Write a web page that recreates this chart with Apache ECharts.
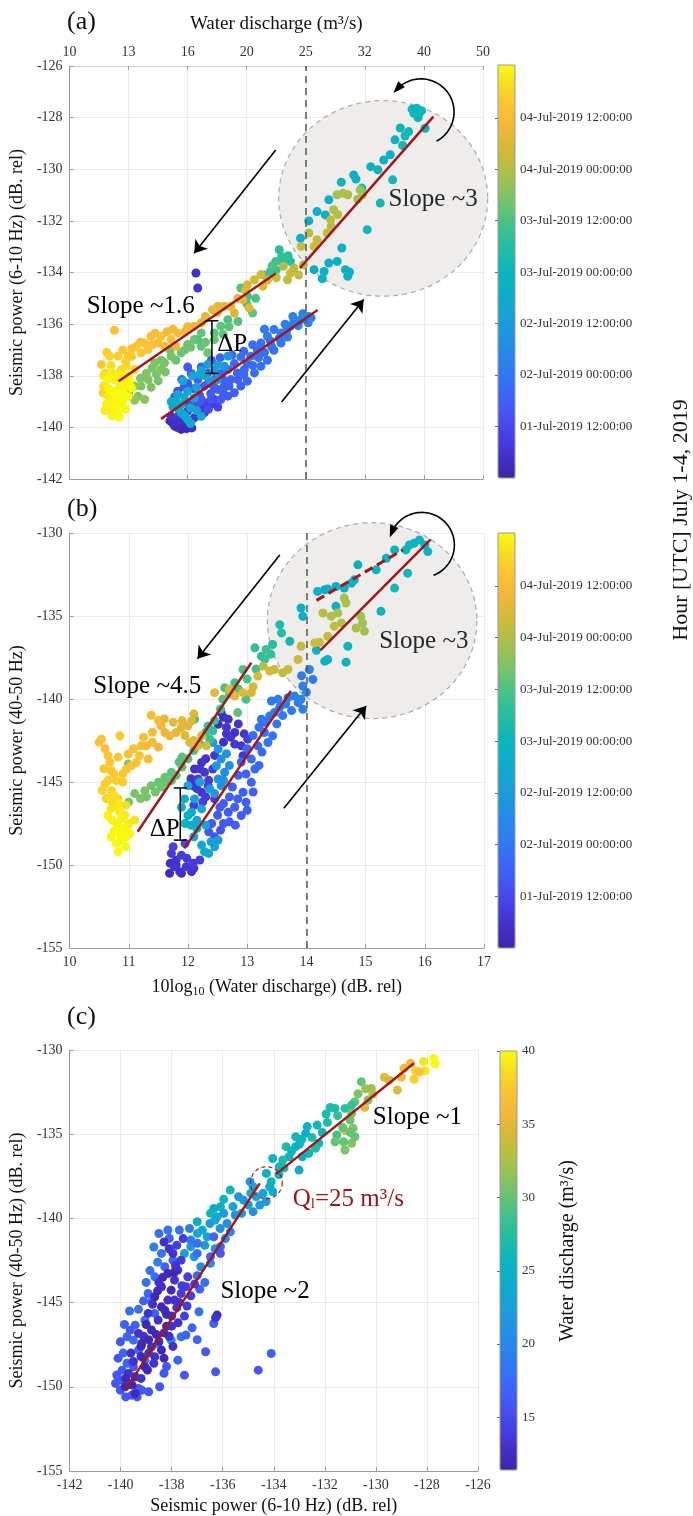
<!DOCTYPE html>
<html><head><meta charset="utf-8">
<script src="https://cdn.jsdelivr.net/npm/echarts@6/dist/echarts.min.js"></script>
<style>html,body{margin:0;padding:0;background:#fff}#c{width:693px;height:1516px}</style>
</head><body><div id="c"></div>
<script>
const FONT = '"Liberation Serif","Times New Roman",serif';

// ---------- tick labels ----------
const dischargeTickLabels = ['10','13','16','20','25','32','40','50']; // top axis of (a), at 10..17 dB
const timeTickValues = [12,24,36,48,60,72,84];   // hours since 01-Jul-2019 00:00
const timeTickLabels = ['01-Jul-2019 12:00:00','02-Jul-2019 00:00:00','02-Jul-2019 12:00:00','03-Jul-2019 00:00:00','03-Jul-2019 12:00:00','04-Jul-2019 00:00:00','04-Jul-2019 12:00:00'];
const qTickValues = [15,20,25,30,35,40];
const timeRange = [0, 96.3];
const qRange = [11.4, 40];
const thresholdDb = 14;

// ---------- panel (a): [10log10(Q), P 6-10 Hz, hour] ----------
const panelA = [
[15.80,-127.68,48],[15.88,-127.64,48],[15.96,-127.73,47],[15.83,-127.83,49],[15.92,-127.83,48],[16.02,-128.41,47],[15.74,-128.54,49],[15.68,-128.71,50],[15.51,-128.86,46],[15.64,-129.08,51],[15.43,-129.44,45],[15.32,-129.64,46],[15.22,-130.02,47],[15.47,-130.41,50],[14.81,-130.22,45],[14.85,-130.38,46],[14.95,-130.73,52],[15.26,-131.31,50],[15.04,-132.34,50],[14.19,-131.64,44],[14.33,-131.77,45],[14.39,-131.18,46],[13.91,-132.67,43],[14.14,-133.89,44],[14.31,-133.96,45],[14.28,-134.24,46],[14.39,-133.63,44],[14.53,-133.57,45],[14.61,-133.05,44],[14.67,-133.89,46],[14.74,-133.98,47],[14.71,-134.15,45],
[15.10,-129.90,47],[15.60,-128.40,48],[15.90,-128.00,47],[14.60,-130.50,47],[14.05,-132.00,44],
[14.53,-130.99,70],[14.63,-130.93,71],[14.71,-130.99,72],[14.92,-130.80,68],[14.96,-130.99,70],[14.88,-131.16,69],[14.47,-131.57,72],[14.54,-131.76,73],[14.42,-131.96,74],[14.36,-132.47,74],[14.19,-132.73,75],[14.14,-132.99,76],[13.92,-132.99,75],[14.05,-132.47,72],[14.43,-132.22,71],
[13.55,-133.12,55],[13.59,-133.38,56],[13.49,-133.57,58],[13.43,-133.74,60],[13.40,-133.96,58],[13.74,-133.57,55],[12.90,-134.60,60],[13.01,-134.92,58],[13.10,-135.57,62],[12.68,-135.83,60],[12.56,-136.08,62],[12.45,-136.34,61],[12.23,-136.34,62],[12.11,-136.60,63],[12.00,-136.79,63],[12.23,-136.86,62],[12.34,-137.11,64],[12.17,-136.60,60],
[13.30,-134.10,58],[13.50,-133.90,58],[13.60,-133.60,56],[13.70,-133.35,55],[13.00,-135.20,60],[13.15,-135.00,60],[12.85,-135.90,61],[12.70,-136.10,62],[12.60,-136.40,62],[12.45,-136.60,63],[12.30,-136.70,63],[12.05,-136.90,64],[11.95,-137.00,64],
[13.69,-134.28,74],[13.74,-134.02,75],[13.80,-133.83,73],[13.62,-133.76,72],[13.24,-134.08,76],[13.27,-134.53,78],[13.13,-134.28,77],[13.01,-134.47,78],[12.93,-135.05,80],[13.04,-135.37,79],[12.79,-135.57,78],[12.62,-135.31,79],[12.51,-135.31,80],[12.42,-135.44,81],[12.73,-135.31,80],[12.23,-135.95,78],[12.11,-136.08,80],
[12.85,-135.00,79],[12.98,-134.70,78],[13.35,-134.30,76],[13.50,-134.20,75],[12.30,-135.70,80],[12.50,-135.55,80],[12.00,-136.10,81],[13.88,-134.10,74],[13.96,-133.70,73],
[11.83,-136.34,84],[11.72,-136.60,85],[11.55,-136.47,86],[11.38,-136.47,85],[11.27,-136.73,86],[11.61,-136.86,84],[11.33,-136.99,87],[11.21,-137.11,88],[10.99,-137.24,88],[10.82,-137.24,89],[10.76,-136.24,86],[11.50,-136.73,83],[11.80,-136.86,82],[11.13,-136.86,87],
[10.90,-137.00,88],[11.05,-136.95,87],[11.20,-136.70,86],[11.40,-136.80,86],[11.65,-136.30,84],[11.75,-136.20,83],[11.95,-136.30,83],[11.45,-136.35,85],[10.95,-137.45,89],[11.05,-137.25,88],[10.60,-137.90,90],[10.63,-137.10,89],
[11.72,-137.24,64],[11.61,-137.50,65],[11.55,-137.76,66],[11.47,-137.95,65],[11.33,-138.15,66],[11.21,-138.40,66],[11.16,-138.79,67],[11.27,-138.92,67],[11.10,-138.95,68],[11.89,-137.11,63],[11.44,-137.50,66],
[11.00,-138.70,68],[11.10,-138.40,67],[11.20,-138.10,66],[11.30,-137.90,66],[11.40,-137.70,65],[11.55,-137.40,65],[11.70,-137.00,64],[11.80,-137.40,64],[11.38,-138.45,66],[11.50,-138.20,65],[11.62,-137.85,65],
[10.71,-137.89,94],[10.76,-138.15,95],[10.85,-138.40,95],[10.91,-138.66,96],[10.76,-138.92,95],[10.65,-138.79,94],[10.61,-138.40,93],[10.71,-139.31,94],[10.62,-139.11,95],[10.81,-139.44,96],[10.93,-138.02,95],[11.02,-138.21,96],[11.05,-138.47,96],[10.65,-138.15,96],[10.88,-137.76,92],[10.96,-137.63,91],
[10.58,-138.00,93],[10.66,-138.50,95],[10.74,-138.60,96],[10.83,-138.75,96],[10.90,-139.00,96],[10.68,-139.00,95],[10.78,-139.20,96],[10.86,-139.10,96],[10.95,-138.40,95],[10.99,-138.80,96],[10.70,-137.60,92],[10.80,-137.95,94],[10.88,-138.25,95],[10.72,-139.55,95],[10.60,-139.35,94],[10.95,-139.30,96],[11.00,-138.00,94],[10.84,-139.60,96],
[10.54,-137.56,88],[10.58,-138.40,90],[10.57,-138.66,90],[10.68,-137.24,90],[11.10,-137.76,91],
[11.78,-139.95,3],[11.89,-140.08,2],[12.07,-140.02,3],[11.80,-139.76,5],[11.94,-139.82,4],[11.72,-139.57,6],[11.86,-139.50,7],[12.00,-139.37,8],[12.23,-139.31,9],[12.34,-139.05,10],[12.45,-138.92,11],[12.51,-139.21,10],[12.28,-139.44,8],[12.11,-139.63,7],[12.14,-134.02,5],[12.17,-134.60,6],
[11.70,-139.75,4],[11.82,-140.00,3],[11.98,-140.05,2],[12.05,-139.80,5],[12.18,-139.55,7],[12.40,-139.10,9],[11.90,-139.65,6],[12.30,-139.20,9],[11.75,-139.85,4],
[13.91,-135.83,28],[14.04,-135.95,28],[14.09,-135.76,27],[13.80,-135.85,27],[13.74,-136.08,26],[13.68,-136.24,25],[13.58,-136.34,25],[13.46,-136.21,24],[13.35,-136.47,24],[13.42,-136.86,23],[13.24,-136.73,23],[13.18,-137.01,22],[13.07,-137.24,22],[13.01,-137.53,21],[12.90,-137.27,22],[12.79,-137.53,20],[12.68,-137.76,20],[12.56,-137.91,19],[12.73,-138.15,18],[12.84,-137.89,19],[12.96,-137.76,20],[12.62,-138.40,18],[12.51,-138.53,17],[12.39,-138.69,16],[12.28,-138.40,17],[12.17,-138.15,16],[12.06,-137.91,15],[12.00,-137.66,16],[12.23,-137.66,17],[12.34,-137.89,18],[12.45,-138.15,17],[11.94,-138.43,14],[11.83,-138.60,13],[11.78,-138.82,12],[12.00,-139.05,13],[12.11,-139.15,14],[12.23,-138.92,15],[12.56,-138.92,16],[12.68,-138.79,17],[12.79,-138.66,18],[12.90,-138.40,19],[13.01,-138.21,20],[13.13,-137.89,21],[13.24,-137.63,22],[13.35,-137.40,22],[13.46,-137.01,23],[13.58,-136.73,24],[13.69,-136.50,25],[13.87,-136.06,26],
[12.10,-138.50,15],[12.20,-138.75,16],[12.35,-138.30,17],[12.45,-138.45,17],[12.60,-138.15,18],[12.70,-138.40,18],[12.85,-138.15,19],[12.95,-137.95,20],[13.10,-137.60,21],[13.20,-137.30,22],[13.30,-137.10,22],[13.40,-136.65,23],[13.55,-136.55,24],[13.65,-136.00,25],[13.78,-135.70,26],[13.95,-135.60,27],[14.05,-135.70,28],[12.40,-137.40,18],[12.55,-137.30,19],[12.75,-137.20,20],[12.95,-137.05,21],[13.10,-136.80,22],[13.30,-136.20,24],[12.20,-139.00,14],[12.35,-139.30,13],[12.40,-138.90,15],[12.60,-138.65,16],[12.00,-138.30,15],[11.90,-138.15,16],
[12.34,-137.56,40],[12.51,-137.58,38],[12.62,-137.63,36],[12.68,-137.24,35],[12.08,-138.00,40],[12.23,-137.81,42],[11.83,-138.73,40],[11.94,-138.82,42],[11.89,-139.12,41],[11.89,-139.44,42],[12.00,-139.70,43],[12.23,-139.57,40],[11.80,-138.98,44],[12.11,-138.86,38],[12.39,-138.21,36],[12.51,-138.15,35],
[11.75,-139.20,43],[11.85,-139.30,42],[11.95,-139.55,43],[12.05,-139.25,41],[12.15,-139.35,40],[11.72,-139.00,44],[12.00,-138.60,41],[12.15,-138.45,39],[12.30,-138.00,38],[12.45,-137.80,37],[12.20,-137.95,40],[11.92,-138.20,42],[12.05,-139.85,42]
];

// ---------- panel (b): [10log10(Q), P 40-50 Hz, hour] ----------
const panelB = [
[15.91,-130.42,47],[15.82,-130.62,48],[16.00,-130.72,47],[15.74,-130.72,49],[16.05,-131.12,46],[15.68,-131.02,48],[15.49,-131.02,47],[15.71,-132.42,50],[15.35,-131.52,46],[15.49,-133.32,50],[15.18,-132.22,47],[14.87,-131.92,45],[14.76,-133.02,46],[14.81,-132.82,45],[14.50,-133.22,44],[14.31,-133.42,44],[14.19,-133.52,45],[14.36,-133.38,43],[14.64,-133.32,45],[15.26,-134.72,49],[14.50,-134.42,47],[13.91,-134.52,44],[13.94,-135.02,43],[14.17,-137.06,45],[14.31,-137.72,46],[14.36,-137.62,45],[14.70,-136.82,48],[14.67,-137.78,47],[13.55,-135.52,52],[13.58,-136.02,53],[13.72,-136.52,50],[13.43,-136.72,54],
[14.64,-133.92,70],[14.67,-134.22,71],[14.28,-134.82,73],[14.42,-135.02,72],[14.53,-134.82,71],[14.47,-135.62,74],[14.59,-135.42,72],[14.92,-135.02,69],[14.95,-135.42,70],[14.84,-135.72,71],[14.98,-135.92,70],[14.36,-136.22,74],[14.22,-136.58,75],[14.14,-136.62,76],[13.91,-136.82,75],
[13.86,-137.62,76],[13.69,-138.22,75],[13.60,-138.42,74],[13.46,-138.22,76],[13.38,-138.32,77],[13.27,-138.02,73],[13.18,-138.62,78],[13.10,-139.26,77],[13.07,-139.62,78],[12.93,-139.62,79],[12.79,-139.82,80],[12.45,-139.62,79],[12.70,-139.42,78],
[13.13,-136.92,56],[13.24,-137.42,55],[13.32,-137.02,58],[12.93,-138.22,60],[12.79,-139.02,58],[12.62,-139.32,60],[12.59,-140.02,61],[12.98,-140.02,59],[12.84,-140.82,62],
[12.70,-139.70,61],[12.85,-139.40,60],[13.00,-138.80,59],[13.15,-138.20,58],[13.30,-137.60,57],[13.40,-137.30,56],
[14.05,-138.22,27],[14.11,-138.82,26],[13.94,-139.22,25],[13.92,-138.60,26],
[12.56,-140.82,4],[12.68,-141.22,5],[12.51,-141.52,3],[12.65,-141.72,6],[12.79,-142.02,5],[12.79,-142.72,7],[12.90,-142.82,6],[13.01,-142.42,8],[12.93,-143.42,7],[12.23,-143.82,6],[12.11,-144.22,5],[12.28,-144.42,7],[12.17,-144.82,8],[12.34,-145.22,9],[12.42,-144.22,8],[12.08,-145.22,6],[12.23,-145.62,7],[12.45,-146.02,9],[12.60,-141.10,4],[12.72,-142.30,6],
[12.30,-143.60,6],[12.45,-143.40,7],[12.60,-142.60,5],[12.65,-142.10,5],[12.85,-141.50,6],[12.95,-142.10,7],[12.20,-144.20,6],[12.35,-144.90,8],[12.05,-144.80,6],[12.15,-145.40,7],[12.30,-145.90,8],[12.10,-146.40,9],[12.25,-146.20,9],
[13.41,-140.12,24],[13.52,-140.02,25],[13.69,-139.92,26],[13.80,-139.82,27],[13.86,-140.22,26],[13.94,-140.62,27],[13.91,-140.02,27],[13.24,-141.22,23],[13.38,-141.02,24],[13.46,-140.82,24],[13.29,-142.02,22],[13.43,-142.22,23],[13.35,-142.62,22],[13.18,-142.82,21],[13.07,-143.62,20],[13.13,-144.22,20],[12.98,-144.52,19],[13.07,-145.02,19],[12.93,-145.62,18],[12.84,-146.02,18],[12.98,-146.22,17],[12.79,-146.52,17],[12.68,-146.82,16],[12.90,-147.02,16],[12.54,-146.52,16],[12.70,-147.40,15],[12.55,-147.90,14],[12.45,-148.30,14],
[13.10,-142.20,21],[13.20,-141.70,22],[13.30,-141.40,23],[13.55,-140.50,25],[13.65,-140.30,25],[13.00,-143.00,20],[12.90,-143.80,20],[12.85,-144.60,19],[12.75,-145.30,18],[12.70,-145.90,17],[12.60,-146.30,17],[12.50,-147.00,16],[12.40,-147.50,15],[12.35,-148.00,15],[12.60,-147.50,16],[12.80,-147.60,16],[13.00,-146.70,17],[13.10,-145.60,18],[13.20,-144.00,20],[13.25,-143.20,21],[13.50,-141.50,23],[13.60,-141.00,24],[13.75,-140.70,25],[14.00,-139.60,27],
[12.42,-142.62,34],[12.51,-143.02,33],[12.56,-143.62,32],[12.48,-144.02,34],[12.62,-144.42,31],[12.51,-144.82,33],[12.37,-145.42,36],[12.56,-145.22,32],[12.11,-146.02,38],[12.00,-145.22,40],[11.94,-146.02,42],[11.89,-146.52,44],[12.06,-146.82,42],[12.23,-146.62,40],[12.00,-147.02,44],[12.23,-148.80,40],[12.39,-148.60,38],[12.51,-148.50,36],[12.28,-149.20,42],[12.15,-147.80,43],
[12.15,-147.30,41],[12.30,-147.60,40],[12.45,-148.90,38],[12.35,-149.30,40],[12.10,-148.30,43],[12.05,-147.60,44],[11.95,-147.50,44],[12.20,-145.00,38],[12.45,-145.70,35],[12.60,-144.90,33],[12.70,-144.00,32],[12.65,-143.30,33],
[11.72,-149.30,8],[11.80,-149.72,6],[11.89,-149.42,9],[11.69,-150.50,4],[11.86,-150.40,5],[11.97,-150.10,7],[12.06,-150.40,5],[12.09,-149.90,8],[11.89,-150.50,3],[11.77,-150.10,6],[11.75,-148.90,10],[11.95,-148.70,11],
[11.80,-150.00,5],[11.98,-149.60,8],[11.70,-149.90,5],[12.20,-149.70,9],[12.10,-150.20,6],
[12.11,-141.22,58],[12.34,-141.62,57],[12.42,-141.92,56],[12.37,-142.42,58],[11.72,-144.42,62],[11.61,-144.72,63],[11.50,-145.02,63],[11.38,-145.22,64],[11.27,-145.52,65],[11.72,-144.92,62],[10.99,-143.92,66],[11.85,-143.80,60],[11.45,-145.60,64],[11.20,-146.00,66],
[11.10,-145.70,65],[11.30,-145.90,65],[11.55,-145.30,64],[11.65,-145.00,63],[11.80,-144.60,62],[11.90,-144.10,61],[12.00,-143.60,60],[12.10,-143.10,60],[12.20,-142.70,59],[12.30,-142.00,58],[12.45,-141.30,57],[12.55,-140.60,57],[11.00,-146.20,66],[11.90,-143.50,61],
[12.06,-141.32,78],[12.00,-141.62,79],[11.89,-141.72,80],[11.80,-142.02,80],[11.69,-142.22,81],[12.23,-142.22,78],[12.17,-142.82,77],[12.31,-142.82,76],[12.03,-142.62,79],[11.55,-141.62,82],[11.61,-142.02,81],
[11.60,-141.20,80],[11.75,-141.40,80],[11.90,-141.30,79],[12.10,-140.90,78],[11.95,-142.20,79],[12.10,-142.50,78],[11.40,-142.60,83],[11.50,-142.90,82],
[11.38,-140.98,84],[11.21,-142.82,85],[11.30,-142.82,84],[11.18,-143.42,86],[11.33,-143.62,85],[10.99,-143.32,86],[11.13,-143.82,87],[10.96,-144.22,88],[10.54,-142.42,86],[10.65,-143.42,87],[10.60,-145.12,89],[10.71,-145.52,90],[10.82,-146.02,91],[10.79,-144.92,89],[10.85,-142.22,88],[10.70,-144.30,88],[10.90,-145.00,89],[10.62,-146.00,90],
[10.60,-143.00,86],[10.68,-143.80,87],[10.75,-144.50,88],[10.58,-144.20,88],[10.82,-143.50,87],[10.90,-144.50,88],[11.05,-144.00,87],[11.08,-143.00,86],[11.25,-142.30,85],[11.40,-142.00,84],[11.50,-141.30,83],[10.65,-144.90,89],[10.55,-145.50,90],[10.72,-146.20,91],[10.50,-142.60,86],
[10.76,-146.52,93],[10.85,-146.82,94],[10.93,-147.02,94],[10.65,-147.02,95],[10.80,-147.50,95],[10.90,-147.80,96],[10.85,-148.20,96],[10.75,-148.00,95],[10.95,-148.30,96],[10.79,-148.70,96],[10.82,-149.20,96],[11.00,-147.50,94],[11.10,-147.30,93],[10.70,-146.60,93],[10.95,-146.40,92],
[10.72,-147.30,95],[10.88,-147.20,95],[10.97,-147.70,95],[10.78,-147.90,96],[10.88,-148.50,96],[10.70,-148.30,96],[10.95,-148.90,96],[11.02,-148.10,95],[10.83,-146.30,93],[10.68,-146.00,92],[10.75,-145.80,92]
];

// ---------- panel (c): [P 6-10 Hz, P 40-50 Hz, Q m3/s] ----------
const panelC = [
[-128.13,-130.69,39],[-127.74,-130.50,40],[-127.68,-130.83,40],[-128.07,-131.23,39],[-128.45,-131.23,38],[-128.51,-131.74,38],
[-128.64,-130.79,36],[-128.90,-131.09,36],[-129.16,-132.38,35],[-129.67,-131.62,35],[-129.48,-131.78,34],[-130.44,-133.41,35],[-131.21,-134.79,35],[-128.30,-131.30,37],[-129.00,-131.60,36],
[-130.57,-131.88,30],[-130.18,-132.28,32],[-130.12,-132.61,33],[-130.31,-132.97,31],[-130.82,-133.07,30],[-130.95,-133.76,31],[-131.01,-134.16,30],[-130.89,-134.65,31],[-130.82,-135.15,30],[-130.95,-135.54,31],[-131.27,-135.45,30],[-131.53,-135.05,29],[-131.60,-135.45,30],[-131.21,-135.94,31],
[-130.70,-132.60,31],[-130.40,-132.30,32],[-131.00,-134.90,30],[-131.30,-134.60,30],
[-131.79,-133.41,27],[-131.60,-133.47,27],[-131.21,-133.47,28],[-130.95,-133.27,28],[-132.30,-134.46,26],[-132.69,-134.55,25],[-132.75,-134.95,24],[-133.14,-135.15,26],[-133.52,-135.74,27],[-133.14,-135.74,25],[-132.24,-135.54,26],[-132.37,-135.84,27],[-132.63,-136.14,26],[-132.88,-136.34,25],[-133.40,-136.34,26],[-133.65,-136.53,27],[-133.01,-137.13,24],[-134.04,-136.44,25],[-133.78,-136.93,26],[-134.29,-137.33,25],[-134.10,-137.82,26],
[-133.30,-136.00,26],[-133.00,-135.60,25],[-132.90,-135.30,26],[-132.50,-135.20,27],[-131.90,-134.30,27],[-131.50,-133.90,28],[-131.95,-133.80,27],[-132.10,-134.90,26],[-133.80,-137.40,25],[-133.60,-137.00,26],
[-134.16,-138.12,24],[-134.42,-138.51,23],[-134.04,-138.42,24],[-134.81,-138.12,23],[-134.93,-137.82,22],[-134.55,-139.21,22],[-135.19,-138.91,22],[-134.81,-139.60,21],[-135.38,-138.71,22],[-135.71,-138.32,26],[-136.09,-139.31,25],[-136.35,-139.41,24],[-136.48,-139.70,26],[-136.22,-139.90,25],[-135.96,-139.70,22],[-135.83,-140.30,21],[-135.51,-139.80,21],[-135.26,-139.70,22],[-136.80,-140.69,24],[-136.99,-140.89,23],[-136.61,-141.09,23],[-137.25,-141.68,22],[-137.50,-142.08,22],[-137.12,-142.28,22],[-136.86,-142.87,21],[-136.48,-142.67,21],[-135.96,-138.87,26],
[-136.50,-140.30,22],[-136.10,-140.60,21],[-135.70,-140.80,20],[-135.90,-141.20,20],[-136.30,-141.80,21],[-135.60,-139.30,23],[-135.00,-139.20,22],[-134.70,-138.70,23],[-134.30,-139.00,22],[-134.90,-138.50,23],[-136.70,-141.60,22],[-137.00,-140.20,24],[-136.30,-140.10,23],
[-138.15,-140.69,18],[-137.70,-140.69,18],[-138.09,-141.19,17],[-138.40,-142.08,18],[-137.95,-142.48,17],[-138.27,-142.87,17],[-138.66,-143.47,18],[-138.92,-144.46,17],[-138.79,-144.95,18],[-138.66,-145.64,17],[-139.05,-146.04,18],[-139.43,-146.34,17],[-139.62,-146.63,16],[-139.75,-147.03,17],[-140.01,-147.33,16],[-139.50,-147.23,18],[-139.30,-147.82,17],[-139.05,-148.42,18],[-139.50,-148.81,16],[-139.94,-149.01,16],[-140.01,-149.60,16],[-139.69,-149.80,17],[-139.30,-150.10,16],[-139.56,-150.50,16],[-139.17,-150.20,16],[-140.01,-150.20,16],[-138.53,-147.43,19],[-138.02,-147.23,20],[-137.63,-147.03,18],[-137.44,-146.93,17],[-137.76,-148.42,17],[-137.50,-149.31,16],[-136.67,-147.92,16],[-136.28,-149.11,16],[-134.61,-149.01,16],[-134.10,-148.02,17],[-138.47,-150.00,16],[-136.35,-146.24,17],[-136.93,-145.54,18],[-137.25,-141.29,19],[-136.99,-141.48,18],[-136.35,-141.09,17],[-136.09,-141.68,17],[-136.09,-142.08,16],[-136.48,-142.28,17],[-137.00,-142.08,18],
[-140.10,-148.30,16],[-139.90,-148.00,17],[-140.15,-149.30,16],[-139.85,-146.30,17],[-139.65,-145.50,18],[-139.30,-145.40,18],[-139.10,-144.90,17],[-139.00,-143.80,18],[-138.85,-143.10,18],[-138.55,-142.60,19],[-138.70,-141.70,19],[-138.50,-140.90,18],[-137.30,-140.60,19],[-137.00,-143.40,17],[-136.90,-144.20,17],[-136.70,-143.80,18],[-137.20,-146.50,17],[-137.00,-147.20,17],[-138.30,-149.20,16],[-138.90,-150.30,16],[-139.80,-150.60,16],[-139.35,-150.60,16],[-140.20,-149.80,16],[-139.75,-148.60,17],[-138.20,-148.80,16],
[-139.30,-146.83,13],[-139.10,-147.00,13],[-138.79,-146.63,12],[-138.53,-146.04,13],[-138.27,-145.45,12],[-138.15,-144.85,13],[-138.02,-144.26,12],[-137.89,-143.66,13],[-137.76,-143.07,13],[-137.63,-142.48,14],[-137.95,-142.08,13],[-138.15,-143.27,12],[-138.40,-144.06,13],[-138.66,-144.65,12],[-138.40,-145.25,12],[-137.89,-144.85,13],[-137.63,-144.46,14],[-137.44,-144.06,14],[-137.37,-143.47,14],[-138.92,-145.64,13],[-139.17,-147.43,12],[-138.79,-147.62,13],[-138.40,-147.82,12],[-138.66,-148.22,13],[-139.05,-148.81,12],[-139.43,-149.40,12],[-139.69,-149.21,13],[-139.82,-150.00,12],[-139.43,-150.40,12],[-136.22,-145.74,12],[-136.28,-145.90,13],[-138.20,-146.40,12],[-138.00,-145.80,12],[-138.50,-143.80,13],[-137.90,-143.20,12],[-138.60,-146.90,12],[-137.80,-145.30,13],[-137.50,-145.80,14],[-138.90,-147.20,12],[-138.10,-147.00,13],
[-139.60,-148.00,13],[-139.20,-148.20,12],[-138.90,-148.00,13],[-138.50,-147.30,12],[-138.30,-146.80,12],[-138.00,-146.40,13],[-137.70,-145.00,13],[-137.60,-144.00,14],[-137.85,-142.80,13],[-138.35,-143.50,12],[-138.55,-144.30,12],[-138.75,-145.10,13],[-139.00,-146.30,12],[-139.20,-147.60,12],[-139.50,-148.50,13],[-139.80,-149.50,12],[-139.55,-149.90,12],[-139.20,-149.50,13],[-138.95,-149.00,12],[-138.70,-148.60,13],[-138.30,-148.30,12],[-138.20,-145.70,12],[-137.75,-146.20,13],[-137.95,-147.60,13],[-137.40,-145.20,14],[-137.25,-144.60,14],[-137.10,-143.90,14],[-138.10,-141.80,13],[-138.30,-141.40,13],[-137.80,-141.60,14],[-137.55,-141.20,14]
];

// ---------- annotations (data coordinates) ----------
const fitLinesA = [[[10.83,-138.21],[13.49,-134.04]],[[11.55,-139.67],[14.20,-135.45]],[[13.90,-133.83],[16.16,-127.96]]];
const fitLinesB = [[[11.15,-148.00],[13.07,-137.82]],[[11.94,-149.00],[13.74,-139.52]],[[14.24,-137.06],[16.10,-130.38]]];
const dashedLinesB = [[[14.17,-134.06],[15.63,-131.02]]];
const fitLinesC = [[[-139.82,-150.2],[-134.55,-137.92]],[[-133.91,-137.37],[-128.51,-130.79]]];
const arrowsA = [[[13.49,-129.25],[12.11,-133.25]],[[13.59,-139.02],[14.98,-135.05]]];
const arrowsB = [[[13.55,-131.32],[12.16,-137.58]],[[13.62,-146.58],[15.01,-140.42]]];
const loopA = [15.95,-127.78,0.56,-137,62];   // centre x, y, radius (x units), head angle, tail angle
const loopB = [15.95,-130.72,0.55,-158,69];
const circleA = [15.31,-131.13,1.77,3.79];    // centre, radii
const circleB = [15.11,-135.28,1.77,5.9];
const circleC = [-134.29,-137.88,0.62,0.95];
const bracketA = [12.41,-135.87,-137.91,0.11];
const bracketB = [11.87,-145.36,-148.50,0.11];
const textA = [[10.29,-135.32,'Slope ~1.6','right','#000'],[15.40,-131.18,'Slope ~3','right','#262626'],[12.50,-136.79,'ΔP','right','#000']];
const textB = [[10.40,-139.24,'Slope ~4.5','right','#000'],[15.23,-136.52,'Slope ~3','right','#262626'],[11.86,-147.85,'ΔP','left','#000']];
const textC = [[-130.12,-133.98,'Slope ~1','right','#000'],[-136.09,-144.35,'Slope ~2','right','#000'],[-133.26,-138.71,'{t|Q}{s|l}{t|=25 m³/s}','right','#9e1218']];

const parula = ['#3e26a8','#4230c6','#4540e2','#4653f1','#3d65f7','#3178f2','#2887e8','#2095e0','#17a2d6','#0dadca','#0bb5bd','#20bca6','#3ac18f','#63c476','#8ec35c','#b3bf45','#d4ba36','#f2b73b','#fcc234','#f8db22','#f9fb0e'];
const RED = '#a3161c';

const byThird = arr => arr.slice().sort((p, q) => p[2] - q[2]);

function axBase(extra) {
  return Object.assign({
    type: 'value',
    axisLine: {show: true, lineStyle: {color: '#9c9c9c', width: 1}},
    axisTick: {show: true, inside: true, length: 4, lineStyle: {color: '#9c9c9c'}},
    axisLabel: {fontFamily: FONT, fontSize: 14, color: '#333', margin: 7},
    splitLine: {show: true, lineStyle: {color: '#ebebeb', width: 1}},
    nameTextStyle: {fontFamily: FONT, fontSize: 18, color: '#111'}
  }, extra);
}

function ellipseSeries(xi, yi, d, fill, stroke, dash, lw) {
  return {
    type: 'custom', xAxisIndex: xi, yAxisIndex: yi, z: 1, silent: true,
    data: [d],
    renderItem: function (params, api) {
      const c = api.coord([api.value(0), api.value(1)]);
      const s = api.size([api.value(2), api.value(3)]);
      const pts = [];
      for (let k = 0; k < 120; k++) {
        const a = k / 120 * Math.PI * 2;
        pts.push([c[0] + s[0] * Math.cos(a), c[1] + s[1] * Math.sin(a)]);
      }
      return {type: 'polygon', shape: {points: pts},
        style: {fill: fill, stroke: stroke, lineWidth: lw, lineDash: dash}};
    }
  };
}

function lineSeries(xi, yi, segs, color, width, dash, z, withArrow) {
  return {
    type: 'lines', coordinateSystem: 'cartesian2d', xAxisIndex: xi, yAxisIndex: yi, z: z, silent: true,
    symbol: withArrow ? ['none', 'arrow'] : 'none', symbolSize: withArrow ? [8, 12] : 0,
    lineStyle: {color: color, width: width, type: dash || 'solid', opacity: 1},
    data: segs.map(s => ({coords: s}))
  };
}

function loopSeries(xi, yi, d) {
  return {
    type: 'custom', xAxisIndex: xi, yAxisIndex: yi, z: 4, silent: true, data: [d],
    renderItem: function (params, api) {
      const c = api.coord([api.value(0), api.value(1)]);
      const r = api.size([api.value(2), 0])[0];
      const a0 = api.value(3) * Math.PI / 180, a1 = api.value(4) * Math.PI / 180;
      const pts = [];
      const n = 60;
      for (let k = 0; k <= n; k++) {
        const a = a0 + (a1 - a0) * k / n;
        pts.push([c[0] + r * Math.cos(a), c[1] + r * Math.sin(a)]);
      }
      const P = pts[0];
      const dir = [Math.sin(a0), -Math.cos(a0)];
      const nrm = [-dir[1], dir[0]];
      const tip = [P[0] + dir[0] * 5, P[1] + dir[1] * 5];
      const base = [P[0] - dir[0] * 7, P[1] - dir[1] * 7];
      return {type: 'group', children: [
        {type: 'polyline', shape: {points: pts}, style: {stroke: '#000', lineWidth: 1.6, fill: null}},
        {type: 'polygon', shape: {points: [tip, [base[0] + nrm[0] * 4.5, base[1] + nrm[1] * 4.5], [base[0] - nrm[0] * 4.5, base[1] - nrm[1] * 4.5]]}, style: {fill: '#000'}}
      ]};
    }
  };
}

function bracketSeries(xi, yi, d) {
  return {
    type: 'custom', xAxisIndex: xi, yAxisIndex: yi, z: 4, silent: true, data: [d],
    renderItem: function (params, api) {
      const x = api.value(0), y1 = api.value(1), y2 = api.value(2), h = api.value(3);
      const t = api.coord([x, y1]), b = api.coord([x, y2]);
      const tl = api.coord([x - h, y1]), tr = api.coord([x + h, y1]);
      const bl = api.coord([x - h, y2]), br = api.coord([x + h, y2]);
      const st = {stroke: '#000', lineWidth: 1.5};
      return {type: 'group', children: [
        {type: 'line', shape: {x1: t[0], y1: t[1], x2: b[0], y2: b[1]}, style: st},
        {type: 'line', shape: {x1: tl[0], y1: tl[1], x2: tr[0], y2: tr[1]}, style: st},
        {type: 'line', shape: {x1: bl[0], y1: bl[1], x2: br[0], y2: br[1]}, style: st}
      ]};
    }
  };
}

function textSeries(xi, yi, items) {
  return {
    type: 'scatter', xAxisIndex: xi, yAxisIndex: yi, z: 6, silent: true, symbolSize: 0,
    itemStyle: {color: '#000', opacity: 1},
    data: items.map(a => ({
      value: [a[0], a[1]],
      label: {show: true, formatter: a[2], position: a[3], distance: 0, opacity: 1,
        fontFamily: FONT, fontSize: 25, color: a[4], textBorderWidth: 0,
        rich: {
          t: {fontFamily: FONT, fontSize: 25, color: a[4], lineHeight: 30, verticalAlign: 'bottom'},
          s: {fontFamily: FONT, fontSize: 15, color: a[4], lineHeight: 15, verticalAlign: 'bottom'}
        }}
    }))
  };
}

function scatterSeries(xi, yi, data, markX) {
  const s = {type: 'scatter', xAxisIndex: xi, yAxisIndex: yi, z: 2, symbolSize: 9, data: data,
    itemStyle: {opacity: 1}};
  if (markX !== undefined) {
    s.markLine = {silent: true, symbol: 'none', label: {show: false},
      lineStyle: {type: [7, 5], color: '#555', width: 1.5}, data: [{xAxis: markX}]};
  }
  return s;
}

const series = [];
// (a)
series.push(ellipseSeries(0, 0, circleA, '#efedeb', '#aaaaaa', [5, 4], 1.2));
const idxA = series.length;
series.push(scatterSeries(0, 0, byThird(panelA), thresholdDb));
series.push(lineSeries(0, 0, fitLinesA, RED, 2.5, 'solid', 3, false));
series.push(lineSeries(0, 0, arrowsA, '#000', 1.6, 'solid', 4, true));
series.push(loopSeries(0, 0, loopA));
series.push(bracketSeries(0, 0, bracketA));
series.push(textSeries(0, 0, textA));
// (b)
series.push(ellipseSeries(2, 1, circleB, '#efedeb', '#aaaaaa', [5, 4], 1.2));
const idxB = series.length;
series.push(scatterSeries(2, 1, byThird(panelB), thresholdDb));
series.push(lineSeries(2, 1, fitLinesB, RED, 2.5, 'solid', 3, false));
series.push(lineSeries(2, 1, dashedLinesB, RED, 3, [9, 5], 3, false));
series.push(lineSeries(2, 1, arrowsB, '#000', 1.6, 'solid', 4, true));
series.push(loopSeries(2, 1, loopB));
series.push(bracketSeries(2, 1, bracketB));
series.push(textSeries(2, 1, textB));
// (c)
const idxC = series.length;
series.push(scatterSeries(3, 2, panelC));
series.push(lineSeries(3, 2, fitLinesC, RED, 2.5, 'solid', 3, false));
series.push(Object.assign(ellipseSeries(3, 2, circleC, 'none', RED, [4, 3], 1.2), {z: 5}));
series.push(textSeries(3, 2, textC));

const cbAxis = (grid, min, max, vals, fmt) => axBase({
  gridIndex: grid, position: 'right', min: min, max: max,
  axisLine: {show: false}, splitLine: {show: false},
  axisTick: {show: true, inside: true, length: 3, customValues: vals, lineStyle: {color: '#666'}},
  axisLabel: {fontFamily: FONT, fontSize: 13, color: '#333', margin: 5, customValues: vals, formatter: fmt}
});
const timeFmt = v => timeTickLabels[timeTickValues.indexOf(v)] || '';

const option = {
  animation: false,
  backgroundColor: '#fff',
  grid: [
    {left: 68, top: 66, width: 415, height: 413},
    {left: 67, top: 533, width: 417, height: 415},
    {left: 63, top: 1050, width: 415, height: 421},
    {left: 498, top: 65, width: 17, height: 413, show: true, z: 10, borderColor: '#9a9a9a', borderWidth: 1, backgroundColor: 'transparent'},
    {left: 498, top: 533, width: 17, height: 415, show: true, z: 10, borderColor: '#9a9a9a', borderWidth: 1, backgroundColor: 'transparent'},
    {left: 500, top: 1051, width: 17, height: 419, show: true, z: 10, borderColor: '#9a9a9a', borderWidth: 1, backgroundColor: 'transparent'}
  ],
  xAxis: [
    axBase({gridIndex: 0, min: 10, max: 17, interval: 1, axisLabel: {show: false}}),
    axBase({gridIndex: 0, position: 'top', min: 10, max: 17, interval: 1, splitLine: {show: false},
      axisLine: {show: true, lineStyle: {color: '#d0d0d0'}},
      axisLabel: {fontFamily: FONT, fontSize: 14, color: '#333', margin: 7, formatter: v => dischargeTickLabels[Math.round(v - 10)]},
      name: 'Water discharge (m³/s)', nameLocation: 'middle', nameGap: 32,
      nameTextStyle: {fontFamily: FONT, fontSize: 19, color: '#111'}}),
    axBase({gridIndex: 1, min: 10, max: 17, interval: 1,
      name: '10log{s|10} (Water discharge) (dB. rel)', nameLocation: 'middle', nameGap: 28,
      nameTextStyle: {fontFamily: FONT, fontSize: 18, color: '#111', lineHeight: 22,
        rich: {s: {fontFamily: FONT, fontSize: 12, color: '#111', lineHeight: 12, verticalAlign: 'bottom'}}}}),
    axBase({gridIndex: 2, min: -142, max: -126, interval: 2,
      name: 'Seismic power (6-10 Hz) (dB. rel)', nameLocation: 'middle', nameGap: 26}),
    {type: 'value', gridIndex: 3, min: 0, max: 1, show: false},
    {type: 'value', gridIndex: 4, min: 0, max: 1, show: false},
    {type: 'value', gridIndex: 5, min: 0, max: 1, show: false}
  ],
  yAxis: [
    axBase({gridIndex: 0, min: -142, max: -126, interval: 2,
      name: 'Seismic power (6-10 Hz) (dB. rel)', nameLocation: 'middle', nameGap: 40}),
    axBase({gridIndex: 1, min: -155, max: -130, interval: 5,
      name: 'Seismic power (40-50 Hz)', nameLocation: 'middle', nameGap: 40}),
    axBase({gridIndex: 2, min: -155, max: -130, interval: 5,
      name: 'Seismic power (40-50 Hz) (dB. rel)', nameLocation: 'middle', nameGap: 38}),
    cbAxis(3, timeRange[0], timeRange[1], timeTickValues, timeFmt),
    cbAxis(4, timeRange[0], timeRange[1], timeTickValues, timeFmt),
    cbAxis(5, qRange[0], qRange[1], qTickValues, v => String(v))
  ],
  visualMap: [
    {type: 'continuous', seriesIndex: idxA, dimension: 2, min: timeRange[0], max: timeRange[1], calculable: false,
      left: 498, top: 65, itemWidth: 17, itemHeight: 413, padding: 0, inRange: {color: parula}},
    {type: 'continuous', seriesIndex: idxB, dimension: 2, min: timeRange[0], max: timeRange[1], calculable: false,
      left: 498, top: 533, itemWidth: 17, itemHeight: 415, padding: 0, inRange: {color: parula}},
    {type: 'continuous', seriesIndex: idxC, dimension: 2, min: qRange[0], max: qRange[1], calculable: false,
      left: 500, top: 1051, itemWidth: 17, itemHeight: 419, padding: 0, inRange: {color: parula}}
  ],
  graphic: [
    {type: 'text', left: 67, top: 9, style: {text: '(a)', font: '26px ' + FONT, fill: '#111'}},
    {type: 'text', left: 67, top: 496, style: {text: '(b)', font: '26px ' + FONT, fill: '#111'}},
    {type: 'text', left: 67, top: 1004, style: {text: '(c)', font: '26px ' + FONT, fill: '#111'}},
    {type: 'text', x: 681, y: 520, rotation: Math.PI / 2,
      style: {text: 'Hour [UTC] July 1-4, 2019', font: '22px ' + FONT, fill: '#111', align: 'center', verticalAlign: 'middle'}},
    {type: 'text', x: 568, y: 1251, rotation: Math.PI / 2,
      style: {text: 'Water discharge (m³/s)', font: '20px ' + FONT, fill: '#111', align: 'center', verticalAlign: 'middle'}}
  ],
  series: series
};

const chart = echarts.init(document.getElementById('c'));
chart.setOption(option);
</script>
</body></html>
